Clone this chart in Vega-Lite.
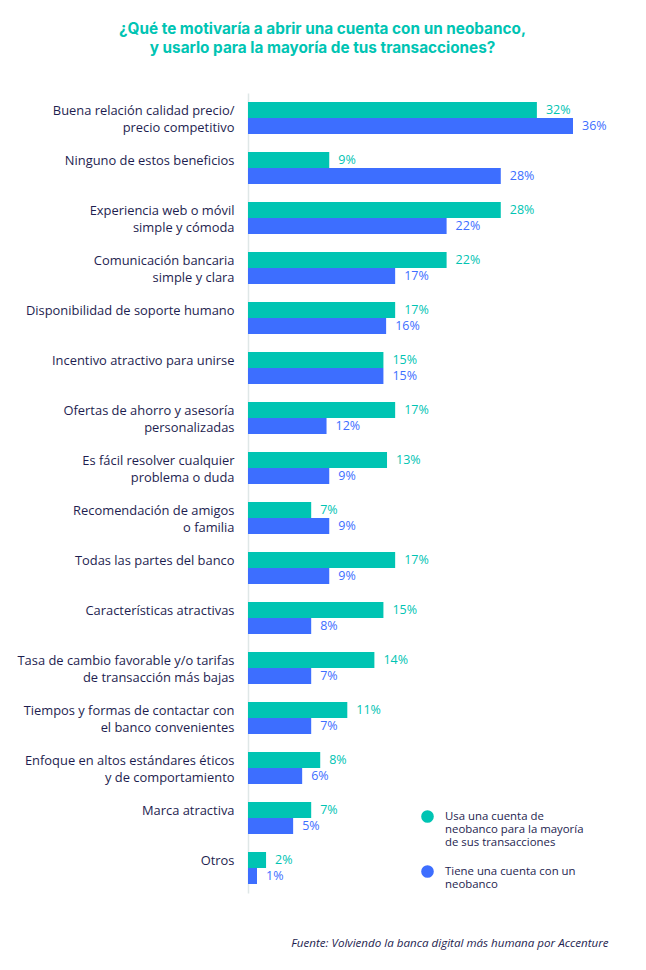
{
  "$schema": "https://vega.github.io/schema/vega-lite/v6.json",
  "autosize": "none",
  "width": 325,
  "height": 800,
  "padding": {"left": 248, "top": 93, "right": 73, "bottom": 77},
  "background": "#ffffff",
  "title": {
    "text": ["¿Qué te motivaría a abrir una cuenta con un neobanco,", "y usarlo para la mayoría de tus transacciones?"],
    "anchor": "middle",
    "frame": "group",
    "dx": -88,
    "offset": 37,
    "font": "Inter",
    "fontSize": 15.3,
    "fontWeight": 700,
    "lineHeight": 18.5,
    "color": "#00c4b3"
  },
  "data": {
    "values": [
      {"cat": "Buena relación calidad precio/|precio competitivo", "serie": "Usa una cuenta de|neobanco para la mayoría|de sus transacciones", "value": 32, "label": "32%"},
      {"cat": "Buena relación calidad precio/|precio competitivo", "serie": "Tiene una cuenta con un|neobanco", "value": 36, "label": "36%"},
      {"cat": "Ninguno de estos beneficios", "serie": "Usa una cuenta de|neobanco para la mayoría|de sus transacciones", "value": 9, "label": "9%"},
      {"cat": "Ninguno de estos beneficios", "serie": "Tiene una cuenta con un|neobanco", "value": 28, "label": "28%"},
      {"cat": "Experiencia web o móvil|simple y cómoda", "serie": "Usa una cuenta de|neobanco para la mayoría|de sus transacciones", "value": 28, "label": "28%"},
      {"cat": "Experiencia web o móvil|simple y cómoda", "serie": "Tiene una cuenta con un|neobanco", "value": 22, "label": "22%"},
      {"cat": "Comunicación bancaria|simple y clara", "serie": "Usa una cuenta de|neobanco para la mayoría|de sus transacciones", "value": 22, "label": "22%"},
      {"cat": "Comunicación bancaria|simple y clara", "serie": "Tiene una cuenta con un|neobanco", "value": 16.3, "label": "17%"},
      {"cat": "Disponibilidad de soporte humano", "serie": "Usa una cuenta de|neobanco para la mayoría|de sus transacciones", "value": 16.3, "label": "17%"},
      {"cat": "Disponibilidad de soporte humano", "serie": "Tiene una cuenta con un|neobanco", "value": 15.3, "label": "16%"},
      {"cat": "Incentivo atractivo para unirse", "serie": "Usa una cuenta de|neobanco para la mayoría|de sus transacciones", "value": 15, "label": "15%"},
      {"cat": "Incentivo atractivo para unirse", "serie": "Tiene una cuenta con un|neobanco", "value": 15, "label": "15%"},
      {"cat": "Ofertas de ahorro y asesoría|personalizadas", "serie": "Usa una cuenta de|neobanco para la mayoría|de sus transacciones", "value": 16.3, "label": "17%"},
      {"cat": "Ofertas de ahorro y asesoría|personalizadas", "serie": "Tiene una cuenta con un|neobanco", "value": 8.7, "label": "12%"},
      {"cat": "Es fácil resolver cualquier|problema o duda", "serie": "Usa una cuenta de|neobanco para la mayoría|de sus transacciones", "value": 15.4, "label": "13%"},
      {"cat": "Es fácil resolver cualquier|problema o duda", "serie": "Tiene una cuenta con un|neobanco", "value": 9, "label": "9%"},
      {"cat": "Recomendación de amigos|o familia", "serie": "Usa una cuenta de|neobanco para la mayoría|de sus transacciones", "value": 7, "label": "7%"},
      {"cat": "Recomendación de amigos|o familia", "serie": "Tiene una cuenta con un|neobanco", "value": 9, "label": "9%"},
      {"cat": "Todas las partes del banco", "serie": "Usa una cuenta de|neobanco para la mayoría|de sus transacciones", "value": 16.3, "label": "17%"},
      {"cat": "Todas las partes del banco", "serie": "Tiene una cuenta con un|neobanco", "value": 9, "label": "9%"},
      {"cat": "Características atractivas", "serie": "Usa una cuenta de|neobanco para la mayoría|de sus transacciones", "value": 15, "label": "15%"},
      {"cat": "Características atractivas", "serie": "Tiene una cuenta con un|neobanco", "value": 7, "label": "8%"},
      {"cat": "Tasa de cambio favorable y/o tarifas|de transacción más bajas", "serie": "Usa una cuenta de|neobanco para la mayoría|de sus transacciones", "value": 14, "label": "14%"},
      {"cat": "Tasa de cambio favorable y/o tarifas|de transacción más bajas", "serie": "Tiene una cuenta con un|neobanco", "value": 7, "label": "7%"},
      {"cat": "Tiempos y formas de contactar con|el banco convenientes", "serie": "Usa una cuenta de|neobanco para la mayoría|de sus transacciones", "value": 11, "label": "11%"},
      {"cat": "Tiempos y formas de contactar con|el banco convenientes", "serie": "Tiene una cuenta con un|neobanco", "value": 7, "label": "7%"},
      {"cat": "Enfoque en altos estándares éticos|y de comportamiento", "serie": "Usa una cuenta de|neobanco para la mayoría|de sus transacciones", "value": 8, "label": "8%"},
      {"cat": "Enfoque en altos estándares éticos|y de comportamiento", "serie": "Tiene una cuenta con un|neobanco", "value": 6, "label": "6%"},
      {"cat": "Marca atractiva", "serie": "Usa una cuenta de|neobanco para la mayoría|de sus transacciones", "value": 7, "label": "7%"},
      {"cat": "Marca atractiva", "serie": "Tiene una cuenta con un|neobanco", "value": 5, "label": "5%"},
      {"cat": "Otros", "serie": "Usa una cuenta de|neobanco para la mayoría|de sus transacciones", "value": 2, "label": "2%"},
      {"cat": "Otros", "serie": "Tiene una cuenta con un|neobanco", "value": 1, "label": "1%"}
    ]
  },
  "encoding": {
    "y": {
      "field": "cat",
      "type": "nominal",
      "sort": null,
      "scale": {"paddingInner": 0.36, "paddingOuter": 0.18},
      "axis": {
        "title": null,
        "domain": true,
        "domainColor": "#dfe7e7",
        "domainWidth": 1.5,
        "ticks": false,
        "labelPadding": 14,
        "labelOffset": -7,
        "labelFont": "Open Sans",
        "labelFontSize": 12.9,
        "labelColor": "#1e1e50",
        "labelLineHeight": 16.5,
        "labelLimit": 300,
        "labelExpr": "split(datum.label, '|')"
      }
    },
    "yOffset": {
      "field": "serie",
      "type": "nominal",
      "sort": ["Usa una cuenta de|neobanco para la mayoría|de sus transacciones", "Tiene una cuenta con un|neobanco"],
      "scale": {"paddingInner": 0, "paddingOuter": 0}
    },
    "x": {
      "field": "value",
      "type": "quantitative",
      "scale": {"domain": [0, 36], "nice": false, "zero": true},
      "axis": {
        "domain": false,
        "ticks": false,
        "labels": false,
        "grid": false,
        "title": "Fuente: Volviendo la banca digital más humana por Accenture",
        "titleFont": "Open Sans",
        "titleFontStyle": "italic",
        "titleFontWeight": "normal",
        "titleFontSize": 11.6,
        "titleColor": "#1e1e50",
        "titleAnchor": "end",
        "titleAlign": "right",
        "titleX": 360,
        "titleY": 53,
        "titleBaseline": "alphabetic"
      }
    },
    "color": {
      "field": "serie",
      "type": "nominal",
      "scale": {
        "domain": ["Usa una cuenta de|neobanco para la mayoría|de sus transacciones", "Tiene una cuenta con un|neobanco"],
        "range": ["#00c4b3", "#3d6eff"]
      },
      "legend": {
        "title": null,
        "orient": "none",
        "legendX": 173,
        "legendY": 717,
        "symbolType": "circle",
        "symbolSize": 160,
        "symbolStrokeWidth": 0,
        "labelFont": "Open Sans",
        "labelFontSize": 11.4,
        "labelColor": "#1e1e50",
        "labelLineHeight": 14.5,
        "labelLimit": 250,
        "labelOffset": 11,
        "rowPadding": 16,
        "labelExpr": "split(datum.label, '|')"
      }
    }
  },
  "layer": [
    {"mark": {"type": "bar", "cornerRadius": 0}},
    {
      "mark": {"type": "text", "align": "left", "baseline": "middle", "dx": 9, "font": "Open Sans", "fontSize": 12.5},
      "encoding": {"text": {"field": "label", "type": "nominal"}}
    }
  ],
  "config": {"view": {"stroke": null}}
}
